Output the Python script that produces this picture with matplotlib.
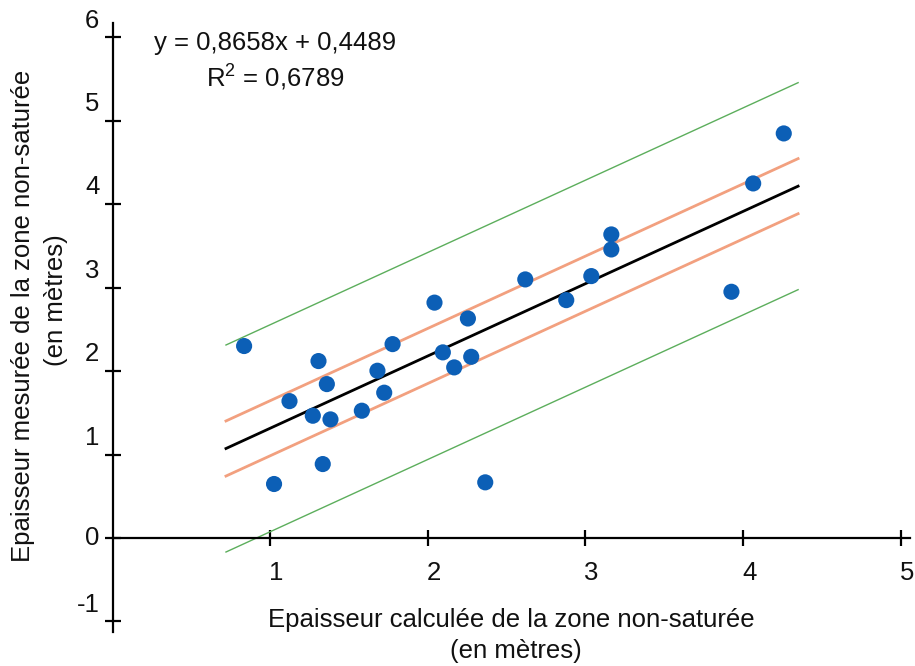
# Epaisseur mesuree vs calculee de la zone non-saturee
import numpy as np
import matplotlib
matplotlib.use('Agg')
import matplotlib.pyplot as plt

plt.rcParams['font.family'] = ['Liberation Sans', 'DejaVu Sans']
plt.rcParams['mathtext.default'] = 'regular'

# points
x_calc = [0.835, 1.307, 1.360, 1.123, 1.271, 1.383, 1.582, 1.681, 1.724, 1.777,
          1.334, 1.025, 2.096, 2.168, 2.276, 2.365, 2.255, 2.619, 2.879, 3.038,
          3.165, 3.165, 3.927, 4.065, 4.259, 2.043]
y_mes = [2.30, 2.12, 1.844, 1.64, 1.465, 1.421, 1.525, 2.004, 1.741, 2.323,
         0.886, 0.647, 2.224, 2.044, 2.171, 0.667, 2.63, 3.098, 2.85, 3.138,
         3.637, 3.457, 2.95, 4.248, 4.847, 2.82]

slope = 0.8658
intercept = 0.4489
line_x = [0.72, 4.35]
band_inner = 0.33
band_outer = 1.24

x_ticks = [1, 2, 3, 4, 5]
y_ticks = [-1, 0, 1, 2, 3, 4, 5, 6]

FS = 18.5
TXT = '#111111'

fig = plt.figure(figsize=(9.15, 6.66), dpi=100)
W, H = 915.0, 666.0
ax = fig.add_axes([112.5 / W, (H - 631.5) / H, 797.5 / W, 608.5 / H])
ax.set_xlim(0, 5.06)
ax.set_ylim(-1.12, 6.17)

for s in ['top', 'right']:
    ax.spines[s].set_visible(False)
ax.spines['left'].set_position(('data', 0))
ax.spines['bottom'].set_position(('data', 0))
for s in ['left', 'bottom']:
    ax.spines[s].set_linewidth(1.6)

ax.set_xticks(x_ticks)
ax.set_yticks(y_ticks)
ax.tick_params(direction='inout', length=12, width=1.6, labelbottom=False, labelleft=False)

# tick labels are shifted a bit from their ticks
for v in x_ticks:
    ax.annotate(str(v), xy=(v, 0), xytext=(4.5, -25), textcoords='offset points',
                ha='center', va='center', fontsize=FS, color=TXT)
for v in y_ticks:
    dy = 0 if v == 0 else 12
    ax.annotate(str(v), xy=(0, v), xytext=(-9.5, dy), textcoords='offset points',
                ha='right', va='center', fontsize=FS, color=TXT)

lx = np.array(line_x)
ly = slope * lx + intercept
ax.plot(lx, ly + band_outer, color='#5cae5c', lw=1.0, zorder=2)
ax.plot(lx, ly - band_outer, color='#5cae5c', lw=1.0, zorder=2)
ax.plot(lx, ly + band_inner, color='#f2a07f', lw=2.0, zorder=2)
ax.plot(lx, ly - band_inner, color='#f2a07f', lw=2.0, zorder=2)
ax.plot(lx, ly, color='black', lw=2.0, zorder=3)

ax.scatter(x_calc, y_mes, s=135, color='#0c5fb6', edgecolors='none', zorder=4)

def px(x, y):
    # pixel position (from top left) to figure fraction
    return x / W, 1 - y / H

fig.text(*px(275, 43), 'y = 0,8658x + 0,4489', ha='center', va='center', fontsize=FS, color=TXT)
fig.text(*px(275, 78), 'R$^{2}$ = 0,6789', ha='center', va='center', fontsize=FS, color=TXT)

fig.text(*px(511, 620), 'Epaisseur calculée de la zone non-saturée', ha='center', va='center',
         fontsize=FS, color=TXT)
fig.text(*px(516, 651), '(en mètres)', ha='center', va='center', fontsize=FS, color=TXT)
fig.text(*px(23, 316), 'Epaisseur mesurée de la zone non-saturée', ha='center', va='center',
         rotation=90, fontsize=FS, color=TXT)
fig.text(*px(56, 300), '(en mètres)', ha='center', va='center', rotation=90, fontsize=FS, color=TXT)

fig.savefig('out.png', dpi=100)
